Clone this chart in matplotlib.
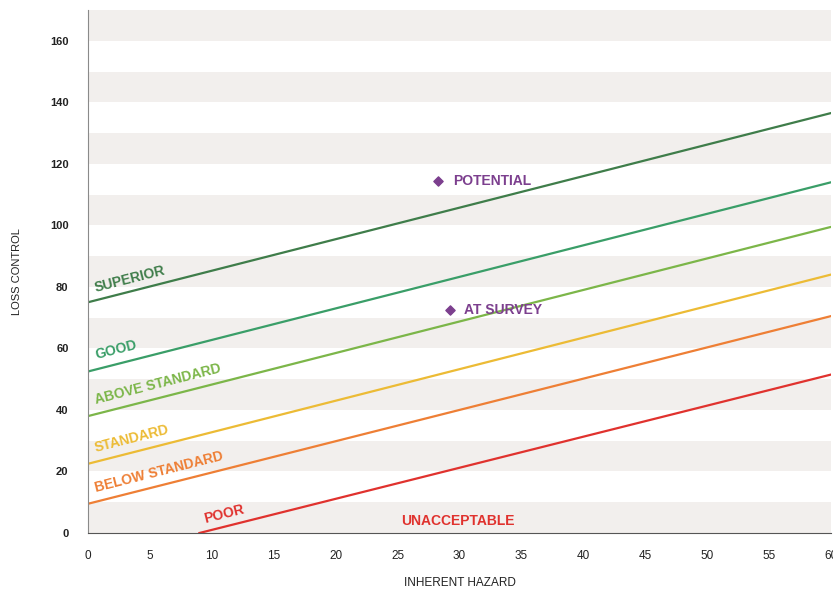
import matplotlib
matplotlib.use('Agg')
import matplotlib.pyplot as plt
import numpy as np

plt.rcParams['font.family'] = ['Liberation Sans', 'DejaVu Sans']

# grade lines: start / end points
grades = ["SUPERIOR", "GOOD", "ABOVE STANDARD", "STANDARD", "BELOW STANDARD", "POOR"]
x_start = [0, 0, 0, 0, 0, 9]
y_start = [75, 52.5, 38, 22.5, 9.5, 0]
x_end = [60, 60, 60, 60, 60, 60]
y_end = [136.5, 114, 99.5, 84, 70.5, 51.5]
colors = ['#3f7d4a', '#3a9e68', '#7cb649', '#ecbb35', '#ee7f35', '#e0322e']

# label anchors (lower-left of text)
label_x = [0.7, 0.7, 0.7, 0.7, 0.7, 9.5]
label_y = [77.5, 55.5, 41, 25.5, 12.5, 2.2]

points = ["POTENTIAL", "AT SURVEY"]
point_x = [28.3, 29.2]
point_y = [114.5, 72.5]
purple = '#7c3f8e'

x_ticks = list(range(0, 61, 5))
y_ticks = list(range(0, 161, 20))

fig = plt.figure(figsize=(8.33, 5.89), dpi=100)
ax = fig.add_axes([88 / 833, 56 / 589, 743 / 833, 523 / 589])

ax.set_xlim(0, 60)
ax.set_ylim(0, 170)

# alternating grey bands every 10 units
for lo in range(0, 170, 20):
    ax.axhspan(lo, lo + 10, color='#f2efed', zorder=0, lw=0)

for xs, ys, xe, ye, c in zip(x_start, y_start, x_end, y_end, colors):
    ax.plot([xs, xe], [ys, ye], color=c, lw=1.6, zorder=2)

# rotation in screen space
fig.canvas.draw()
for name, lx, ly, xs, ys, xe, ye, c in zip(grades, label_x, label_y, x_start, y_start, x_end, y_end, colors):
    p1 = ax.transData.transform((xs, ys))
    p2 = ax.transData.transform((xe, ye))
    ang = np.degrees(np.arctan2(p2[1] - p1[1], p2[0] - p1[0]))
    ax.text(lx, ly, name, color=c, fontsize=10, fontweight='bold', rotation=ang,
            rotation_mode='anchor', ha='left', va='bottom', zorder=3)

ax.text(29.9, 3.9, "UNACCEPTABLE", color='#e0322e', fontsize=10, fontweight='bold',
        ha='center', va='center')

ax.scatter(point_x, point_y, marker='D', s=22, color=purple, zorder=4)
for name, px, py in zip(points, point_x, point_y):
    ax.text(px + 1.2, py, name, color=purple, fontsize=10, fontweight='bold',
            ha='left', va='center')

ax.set_xticks(x_ticks)
ax.set_yticks(y_ticks)
ax.tick_params(length=0, labelsize=8, labelcolor='#222222')
ax.tick_params(axis='x', pad=12)
ax.tick_params(axis='y', pad=14)
for lab in ax.get_xticklabels():
    lab.set_fontsize(8.5)
for lab in ax.get_yticklabels():
    lab.set_fontweight('bold')

for s in ['top', 'right']:
    ax.spines[s].set_visible(False)
ax.spines['left'].set_color('#8a8a8a')
ax.spines['bottom'].set_color('#555555')

ax.set_xlabel("INHERENT HAZARD", fontsize=8.5, color='#222222', labelpad=11)
ax.set_ylabel("LOSS CONTROL", fontsize=8, color='#222222', labelpad=20)

fig.savefig('out.png', dpi=100)
